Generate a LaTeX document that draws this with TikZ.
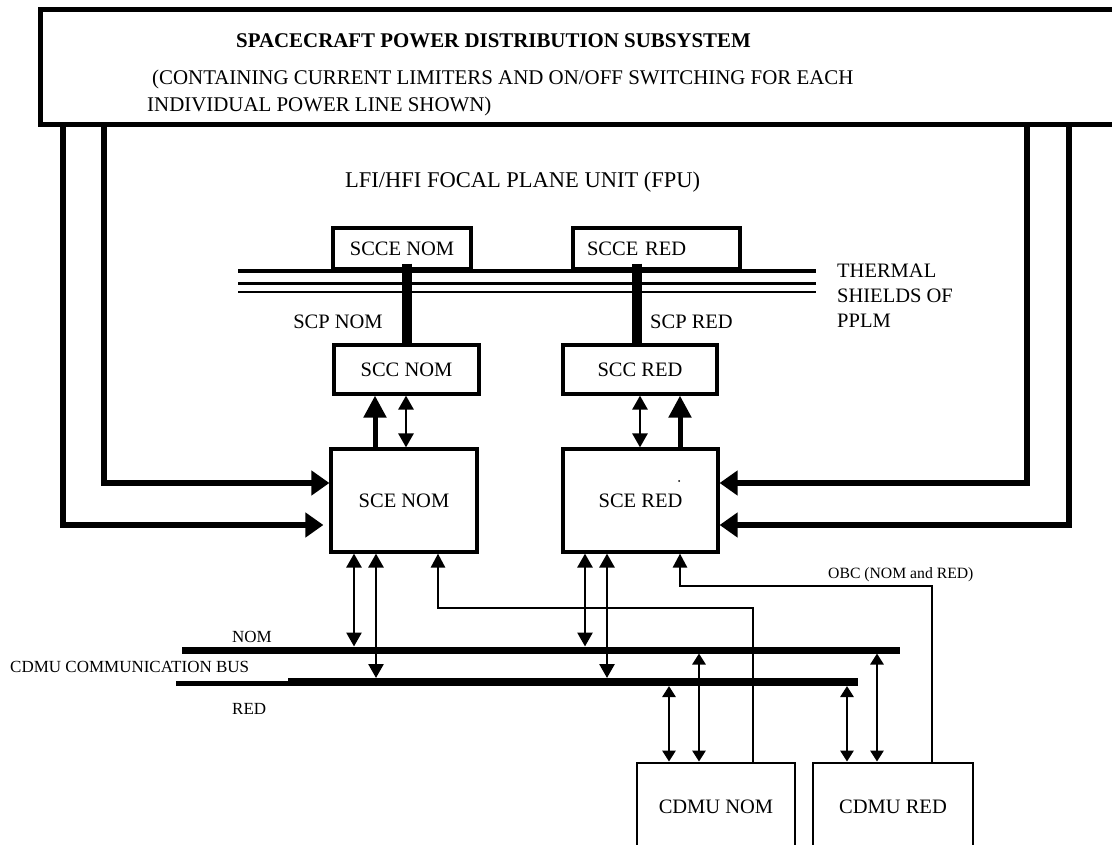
\documentclass[tikz,border=0pt]{standalone}
\usepackage{fontspec}
\setmainfont{Liberation Serif}
\usetikzlibrary{arrows.meta}
\begin{document}
\begin{tikzpicture}[x=1pt,y=-1pt,line join=miter,
  box/.style={draw, line width=3.2pt, inner sep=0pt, font=\fontsize{20.5}{24}\selectfont},
  lbl/.style={inner sep=0pt, font=\fontsize{20.5}{24}\selectfont},
  small/.style={inner sep=0pt, font=\fontsize{17}{20}\selectfont},
  power/.style={line width=6pt, -{Triangle[length=18pt,width=24pt]}},
  thickup/.style={line width=5pt, -{Triangle[length=22pt,width=22pt]}},
  thindbl/.style={line width=2.7pt, {Triangle[length=14pt,width=15pt]}-{Triangle[length=14pt,width=15pt]}},
  cdbl/.style={line width=2.7pt, {Triangle[length=11pt,width=13pt]}-{Triangle[length=11pt,width=13pt]}},
  obc/.style={line width=2.7pt, {Triangle[length=14pt,width=14pt]}-},
  scp/.style={line width=10pt}
]
\useasboundingbox (0,0) rectangle (1112,845);
\fill[white] (0,0) rectangle (1112,845);

% power distribution subsystem box (open to the right edge)
\node[draw, line width=5pt, minimum width=1090pt, minimum height=115pt, inner sep=0pt] (psu) at (585,67.5) {};
\node[anchor=base west, inner sep=0pt, font=\fontsize{20.9}{24}\selectfont\bfseries] (title) at (236,48) {SPACECRAFT POWER DISTRIBUTION SUBSYSTEM};
\node[anchor=base west, inner sep=0pt, font=\fontsize{20.9}{24}\selectfont] (sub1) at (152,85) {(CONTAINING CURRENT LIMITERS AND ON/OFF SWITCHING FOR EACH};
\node[anchor=base west, inner sep=0pt, font=\fontsize{20.9}{24}\selectfont] (sub2) at (147,111.5) {INDIVIDUAL POWER LINE SHOWN)};

\node[anchor=base west, inner sep=0pt, font=\fontsize{22.5}{26}\selectfont] (fpu) at (345,188) {LFI/HFI FOCAL PLANE UNIT (FPU)};

% boxes
\node[box, minimum width=138pt, minimum height=41pt] (scce-nom) at (402,248.5) {SCCE NOM};
\node[box, minimum height=41pt, text width=139pt, align=left, inner xsep=14pt] (scce-red) at (656.5,248.5) {SCCE RED};
\node[box, minimum width=145pt, minimum height=49pt] (scc-nom) at (406.5,369.5) {SCC NOM};
\node[box, minimum width=154pt, minimum height=49pt] (scc-red) at (640,369.5) {SCC RED};
\node[box, minimum width=146pt, minimum height=103pt] (sce-nom) at (404,500.5) {SCE NOM};
\node[box, minimum width=155pt, minimum height=103pt] (sce-red) at (640.5,500.5) {SCE RED};
\node[box, line width=2.8pt, minimum width=158pt, minimum height=88pt] (cdmu-nom) at (716,807) {CDMU NOM};
\node[box, line width=2.8pt, minimum width=160pt, minimum height=88pt] (cdmu-red) at (893,807) {CDMU RED};
\fill (679,481) circle (1pt);

% thermal shields
\coordinate (ts-w) at (238,271.5);
\coordinate (ts-e) at (816,271.5);
\draw[line width=4pt] (ts-w) -- (ts-e);
\draw[line width=3.3pt] ([yshift=-11.8pt]ts-w) -- ([yshift=-11.8pt]ts-e);
\draw[line width=2.3pt] ([yshift=-20.8pt]ts-w) -- ([yshift=-20.8pt]ts-e);
\node[lbl, anchor=base west] (th1) at (837,278) {THERMAL};
\node[lbl, anchor=base west] (th2) at (837,302) {SHIELDS OF};
\node[lbl, anchor=base west] (th3) at (837,327) {PPLM};

% SCP links
\draw[scp, shorten <=-7pt] (scce-nom.south -| 407,0) -- (scc-nom.north -| 407,0);
\draw[scp, shorten <=-7pt] (scce-red.south -| 637,0) -- (scc-red.north -| 637,0);
\node[lbl] (scp-nom) at (338,322) {SCP NOM};
\node[lbl] (scp-red) at (691.5,322) {SCP RED};

% SCE - SCC
\draw[thickup] (sce-nom.north -| 375,0) -- (scc-nom.south -| 375,0);
\draw[thindbl] (sce-nom.north -| 406,0) -- (scc-nom.south -| 406,0);
\draw[thindbl] (sce-red.north -| 640,0) -- (scc-red.south -| 640,0);
\draw[thickup] (sce-red.north -| 680,0) -- (scc-red.south -| 680,0);

% power lines
\draw[power] (psu.south -| 104,0) |- (sce-nom.west |- 0,483);
\draw[power, shorten >=6pt] (psu.south -| 62.5,0) |- (sce-nom.west |- 0,525);
\draw[power] (psu.south -| 1026.5,0) |- (sce-red.east |- 0,483);
\draw[power] (psu.south -| 1068.5,0) |- (sce-red.east |- 0,525);

% CDMU communication bus
\coordinate (nom-w) at (182,650);
\coordinate (nom-e) at (900,650);
\coordinate (red-w) at (176,683.5);
\coordinate (red-m) at (288,683.5);
\coordinate (red-s) at (288,682);
\coordinate (red-e) at (858,682);
\draw[line width=7pt] (nom-w) -- (nom-e);
\draw[line width=5pt] (red-w) -- (red-m);
\draw[line width=8pt] (red-s) -- (red-e);
\node[small, anchor=base west] (bus-nom) at (232,642.3) {NOM};
\node[small, anchor=base west] (bus-red) at (232,714.6) {RED};
\node[small, anchor=base west] (bus) at (10,672.3) {CDMU COMMUNICATION BUS};

% SCE - bus
\draw[thindbl, shorten >=3.5pt] (sce-nom.south -| 354,0) -- (nom-w -| 354,0);
\draw[thindbl, shorten >=4pt] (sce-nom.south -| 376,0) -- (red-s -| 376,0);
\draw[thindbl, shorten >=3.5pt] (sce-red.south -| 585,0) -- (nom-w -| 585,0);
\draw[thindbl, shorten >=4pt] (sce-red.south -| 607,0) -- (red-s -| 607,0);

% bus - CDMU
\draw[cdbl, shorten <=4pt] (red-s -| 669,0) -- (cdmu-nom.north -| 669,0);
\draw[cdbl, shorten <=3.5pt] (nom-w -| 699,0) -- (cdmu-nom.north -| 699,0);
\draw[cdbl, shorten <=4pt] (red-s -| 847,0) -- (cdmu-red.north -| 847,0);
\draw[cdbl, shorten <=3.5pt] (nom-w -| 877,0) -- (cdmu-red.north -| 877,0);

% OBC lines
\draw[obc] (sce-nom.south -| 438,0) -- (438,608) -| (cdmu-nom.north -| 753,0);
\draw[obc] (sce-red.south -| 680,0) -- (680,586) -| (cdmu-red.north -| 932,0);
\node[inner sep=0pt, anchor=base west, font=\fontsize{15.7}{18}\selectfont] (obc-lbl) at (828,578) {OBC (NOM and RED)};
\end{tikzpicture}
\end{document}
